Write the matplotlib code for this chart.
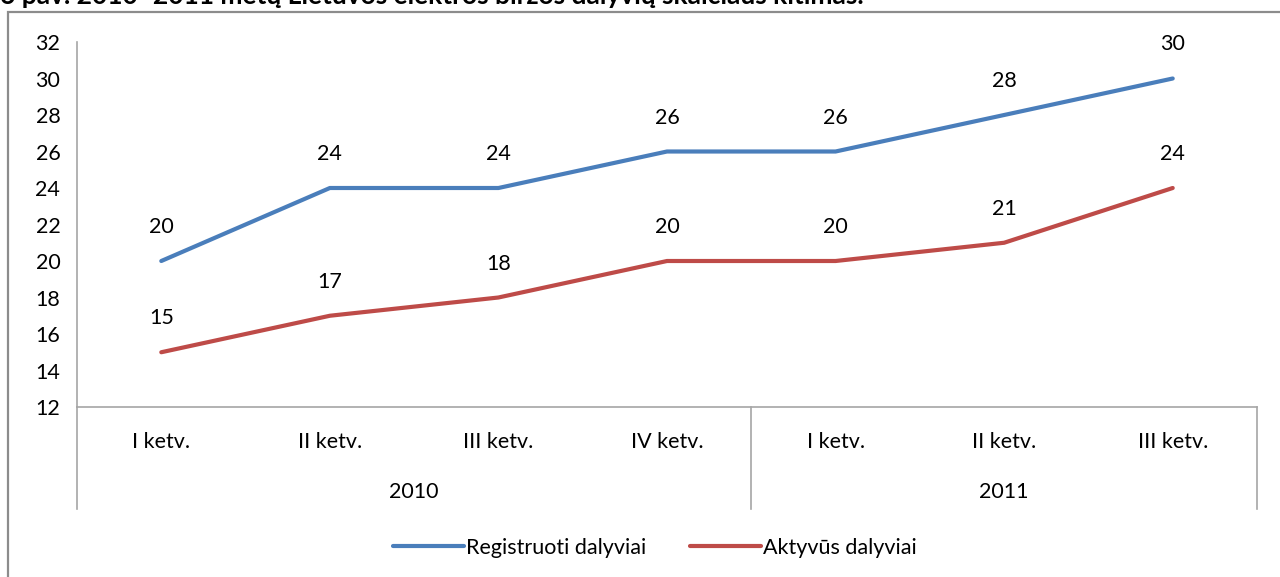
import matplotlib.pyplot as plt
import matplotlib.transforms as mtransforms
from matplotlib.patches import Rectangle

plt.rcParams['font.family'] = ['Lato', 'DejaVu Sans']

quarters = ["I ketv.", "II ketv.", "III ketv.", "IV ketv.", "I ketv.", "II ketv.", "III ketv."]
years = ["2010", "2011"]
year_sizes = [4, 3]
registered = [20, 24, 24, 26, 26, 28, 30]
active = [15, 17, 18, 20, 20, 21, 24]

W, H = 1280, 577
FS = 15.5
fig = plt.figure(figsize=(W / 100, H / 100), dpi=100)

# outer chart frame (cut off at right and bottom)
fig.patches.append(Rectangle((8 / W, -0.1), 1.2, 1 - 12 / H + 0.1, transform=fig.transFigure,
                             fill=False, edgecolor='#8c8c8c', linewidth=1.6, zorder=0))

# caption, clipped at the top edge like in the source
fig.text(0.0, 1 - 4.5 / H, "6 pav. 2010–2011 metų Lietuvos elektros biržos dalyvių skaičiaus kitimas.",
         fontsize=19, fontweight='bold', va='baseline', ha='left', color='black')

left, right = 77 / W, 1257 / W
bottom, top = 1 - 407 / H, 1 - 42 / H
ax = fig.add_axes([left, bottom, right - left, top - bottom])

x = list(range(len(quarters)))
ax.plot(x, registered, color='#4a7ebb', lw=3, solid_capstyle='round', label='Registruoti dalyviai')
ax.plot(x, active, color='#be4b48', lw=3, solid_capstyle='round', label='Aktyvūs dalyviai')

for xi, v in zip(x, registered):
    ax.annotate(str(v), (xi, v), xytext=(0, 34), textcoords='offset pixels',
                ha='center', va='center', fontsize=FS)
for xi, v in zip(x, active):
    ax.annotate(str(v), (xi, v), xytext=(0, 34), textcoords='offset pixels',
                ha='center', va='center', fontsize=FS)

ax.set_xlim(-0.5, len(quarters) - 0.5)
ax.set_ylim(12, 32)
ax.set_yticks(range(12, 33, 2))
ax.tick_params(axis='y', length=0, labelsize=FS, pad=12)
ax.set_xticks([])
for s in ['top', 'right']:
    ax.spines[s].set_visible(False)
for s in ['left', 'bottom']:
    ax.spines[s].set_color('#a6a6a6')
    ax.spines[s].set_linewidth(1.2)

# multi-level category axis
trans = mtransforms.blended_transform_factory(ax.transData, ax.transAxes)
low = -102 / 365
for xi, q in zip(x, quarters):
    ax.text(xi, -35 / 365, q, transform=trans, ha='center', va='center', fontsize=FS)
edges = [-0.5]
for n in year_sizes:
    edges.append(edges[-1] + n)
for i, yr in enumerate(years):
    ax.text((edges[i] + edges[i + 1]) / 2, -85 / 365, yr, transform=trans,
            ha='center', va='center', fontsize=FS)
for e in edges:
    ax.plot([e, e], [0, low], transform=trans, color='#a6a6a6', lw=1.2, clip_on=False)

fig.legend(loc='center', bbox_to_anchor=(655 / W, 1 - 548 / H), ncol=2, frameon=False,
           fontsize=FS, handlelength=3.3, handletextpad=0.1, columnspacing=2.0)

fig.savefig('out.png', dpi=100)
